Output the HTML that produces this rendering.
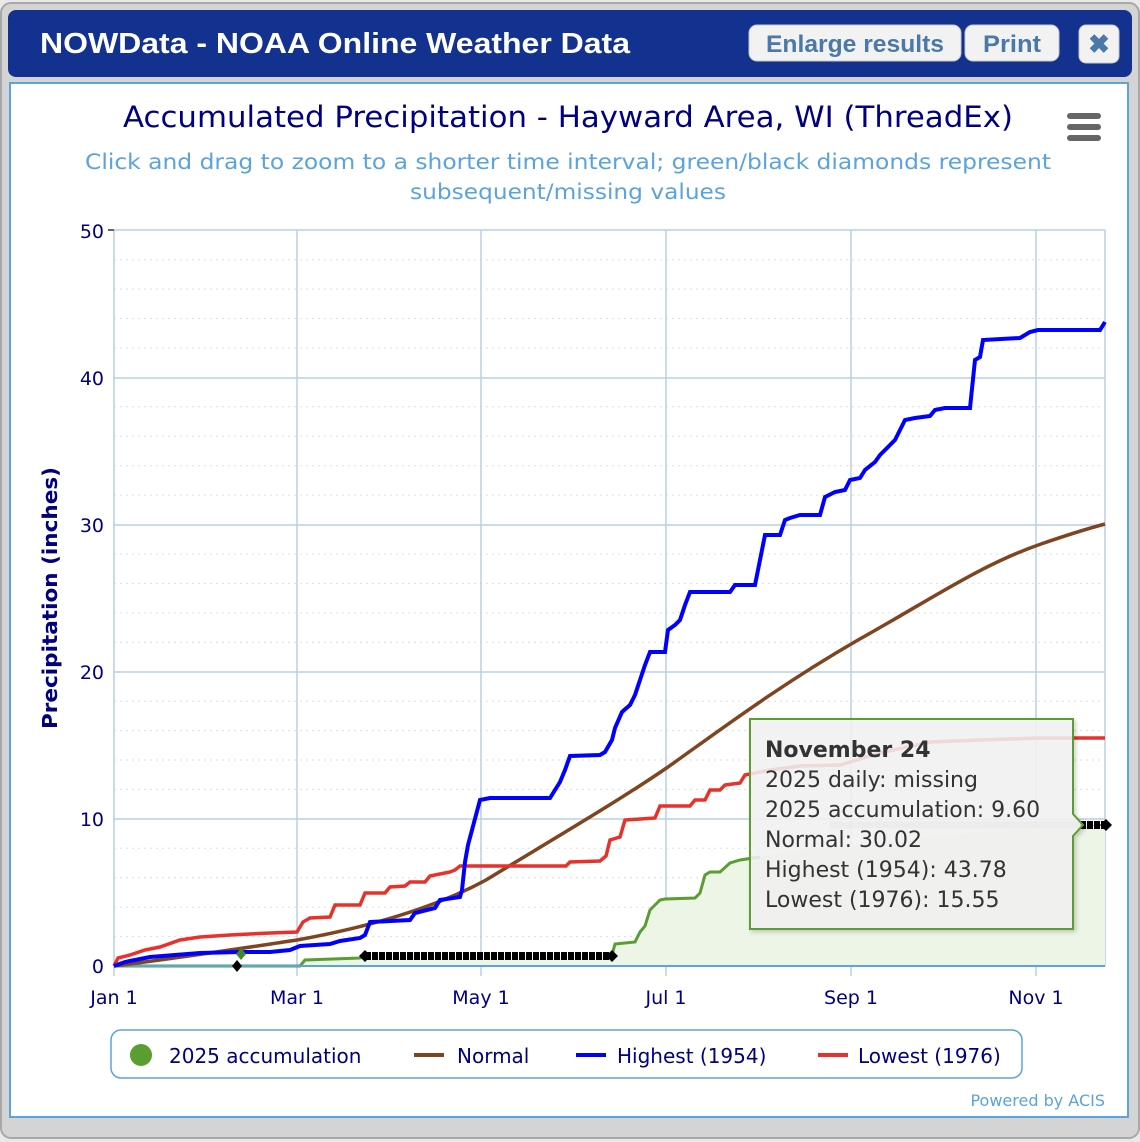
<!DOCTYPE html>
<html><head><meta charset="utf-8"><style>
html,body{margin:0;padding:0;background:#e8e8e8;}
svg{display:block;font-family:"DejaVu Sans","Liberation Sans",sans-serif;}
</style></head><body>
<svg width="1140" height="1142" viewBox="0 0 1140 1142" xmlns="http://www.w3.org/2000/svg">
<rect x="0" y="0" width="1140" height="1142" fill="#e9e9e9"/>
<rect x="1" y="3" width="1138" height="1135" rx="10" fill="#d4d4d4" stroke="#a8a8a8" stroke-width="2"/>
<rect x="8" y="10" width="1124" height="67" rx="8" fill="#13318e"/>
<text x="40" y="53" font-family="Liberation Sans,sans-serif" font-weight="bold" font-size="29" fill="#fff" textLength="590" lengthAdjust="spacingAndGlyphs">NOWData - NOAA Online Weather Data</text>
<rect x="749" y="25" width="212" height="36" rx="8" fill="#f2f2f2" stroke="#c8c8c8"/>
<text x="855" y="52" text-anchor="middle" font-family="Liberation Sans,sans-serif" font-weight="bold" font-size="24" fill="#4a78a8" textLength="178" lengthAdjust="spacingAndGlyphs">Enlarge results</text>
<rect x="965" y="25" width="94" height="36" rx="8" fill="#f2f2f2" stroke="#c8c8c8"/>
<text x="1012" y="52" text-anchor="middle" font-family="Liberation Sans,sans-serif" font-weight="bold" font-size="24" fill="#4a78a8" textLength="58" lengthAdjust="spacingAndGlyphs">Print</text>
<rect x="1079" y="25" width="40" height="38" rx="7" fill="#f2f2f2" stroke="#c8c8c8"/>
<text x="1099" y="53" text-anchor="middle" font-family="Liberation Sans,sans-serif" font-weight="bold" font-size="26" fill="#4a78a8">✖</text>
<rect x="10" y="83" width="1118" height="1034" fill="#fff" stroke="#5aa3dd" stroke-width="2"/>

<text x="568" y="127" text-anchor="middle" font-size="29" fill="#000080" textLength="890" lengthAdjust="spacingAndGlyphs">Accumulated Precipitation - Hayward Area, WI (ThreadEx)</text>
<g fill="#666"><rect x="1067" y="113" width="34" height="6" rx="3"/><rect x="1067" y="124" width="34" height="6" rx="3"/><rect x="1067" y="135" width="34" height="6" rx="3"/></g>
<text x="568" y="169" text-anchor="middle" font-size="21" fill="#5aa3dd" textLength="966" lengthAdjust="spacingAndGlyphs">Click and drag to zoom to a shorter time interval; green/black diamonds represent</text>
<text x="568" y="199" text-anchor="middle" font-size="21" fill="#5aa3dd" textLength="316" lengthAdjust="spacingAndGlyphs">subsequent/missing values</text>

<g stroke="#ddd" stroke-dasharray="2,4" stroke-width="1">
<line x1="114" x2="1105" y1="936.6" y2="936.6"/><line x1="114" x2="1105" y1="907.2" y2="907.2"/><line x1="114" x2="1105" y1="877.7" y2="877.7"/><line x1="114" x2="1105" y1="848.3" y2="848.3"/>
<line x1="114" x2="1105" y1="789.4" y2="789.4"/><line x1="114" x2="1105" y1="760" y2="760"/><line x1="114" x2="1105" y1="730.6" y2="730.6"/><line x1="114" x2="1105" y1="701.2" y2="701.2"/>
<line x1="114" x2="1105" y1="642.3" y2="642.3"/><line x1="114" x2="1105" y1="612.9" y2="612.9"/><line x1="114" x2="1105" y1="583.4" y2="583.4"/><line x1="114" x2="1105" y1="554" y2="554"/>
<line x1="114" x2="1105" y1="495.1" y2="495.1"/><line x1="114" x2="1105" y1="465.7" y2="465.7"/><line x1="114" x2="1105" y1="436.3" y2="436.3"/><line x1="114" x2="1105" y1="406.8" y2="406.8"/>
<line x1="114" x2="1105" y1="348" y2="348"/><line x1="114" x2="1105" y1="318.6" y2="318.6"/><line x1="114" x2="1105" y1="289.1" y2="289.1"/><line x1="114" x2="1105" y1="259.7" y2="259.7"/>
</g>
<g stroke="#b8d0e6" stroke-width="1.5">
<line x1="114" x2="1105" y1="819" y2="819"/><line x1="114" x2="1105" y1="672" y2="672"/><line x1="114" x2="1105" y1="525" y2="525"/><line x1="114" x2="1105" y1="378" y2="378"/><line x1="114" x2="1105" y1="230" y2="230"/>
<line x1="114" x2="114" y1="230" y2="966"/><line x1="297" x2="297" y1="230" y2="966"/><line x1="481" x2="481" y1="230" y2="966"/><line x1="666" x2="666" y1="230" y2="966"/><line x1="851" x2="851" y1="230" y2="966"/><line x1="1036" x2="1036" y1="230" y2="966"/><line x1="1105" x2="1105" y1="230" y2="966"/>
<line x1="114" x2="114" y1="966" y2="976"/><line x1="297" x2="297" y1="966" y2="976"/><line x1="481" x2="481" y1="966" y2="976"/><line x1="666" x2="666" y1="966" y2="976"/><line x1="851" x2="851" y1="966" y2="976"/><line x1="1036" x2="1036" y1="966" y2="976"/>
</g>
<g fill="#666"><rect x="108" y="229" width="6" height="2"/></g>

<g font-size="19" fill="#000080" text-anchor="end">
<text x="104" y="973">0</text><text x="104" y="826">10</text><text x="104" y="679">20</text><text x="104" y="532">30</text><text x="104" y="385">40</text><text x="104" y="238">50</text>
</g>
<g font-size="19" fill="#000080" text-anchor="middle">
<text x="114" y="1004">Jan 1</text><text x="297" y="1004">Mar 1</text><text x="481" y="1004">May 1</text><text x="666" y="1004">Jul 1</text><text x="851" y="1004">Sep 1</text><text x="1036" y="1004">Nov 1</text>
</g>
<text transform="translate(57,598) rotate(-90)" text-anchor="middle" font-size="20" font-weight="bold" fill="#000080" textLength="262" lengthAdjust="spacingAndGlyphs">Precipitation (inches)</text>

<polygon fill="#ecf5e6" points="114,966 300,966 305,960 360,958 365,956 612,956 615,944 635,942 640,932 645,926 650,910 655,905 660,900 665,899 695,898 700,893 705,875 710,872 720,872 730,863 740,860 760,857 800,850 850,845 900,840 950,835 1000,830 1040,827 1080,825 1105,825 1105,966"/>
<polyline fill="none" stroke="#5a9e32" stroke-width="3" points="114,966 300,966 305,960 360,958 365,956"/>
<polyline fill="none" stroke="#5a9e32" stroke-width="3" points="612,955 615,944 635,942 640,932 645,926 650,910 655,905 660,900 665,899 695,898 700,893 705,875 710,872 720,872 730,863 740,860 760,857"/>
<line x1="114" x2="1105" y1="966" y2="966" stroke="#5aa3dd" stroke-width="2"/>

<path fill="none" stroke="#7f4520" stroke-width="3.5" d="M114,966 C200,955 250,947 297,940 C380,925 440,905 486,880 C560,835 620,800 668,767 C720,730 780,685 858,640 C930,600 980,565 1041,544 C1070,534 1090,528 1105,524"/>
<polyline fill="none" stroke="#e8312a" stroke-width="3.5" points="114,966 118,958 130,955 145,950 160,947 180,940 200,937 230,935 270,933 297,932 303,922 310,918 330,917 335,905 360,905 365,893 385,893 390,887 405,886 410,882 425,882 430,876 440,874 450,872 455,870 460,866 566,866 570,862 600,861 606,856 610,840 620,837 625,820 655,818 660,806 690,806 695,800 705,800 710,790 720,790 725,785 740,783 745,775 770,770 800,766 840,765 880,753 930,742 980,740 1040,738 1105,738"/>
<polyline fill="none" stroke="#0000ff" stroke-width="4" points="114,966 125,962 150,957 200,953 240,952 270,952 290,950 300,946 330,944 340,941 360,938 365,935 370,922 410,920 415,913 435,908 440,900 460,897 462,890 465,862 468,845 472,830 480,800 490,798 550,798 555,790 560,782 565,770 570,756 600,755 605,752 612,740 615,728 622,712 630,705 635,695 640,680 645,665 650,652 665,652 668,630 675,625 680,620 685,605 690,592 730,592 735,585 755,585 760,560 765,535 780,535 785,520 790,518 800,515 820,515 825,497 835,492 845,490 850,480 860,478 865,470 875,462 880,455 890,445 895,440 900,430 905,420 915,418 930,416 935,410 945,408 970,408 975,360 980,357 983,340 1020,338 1030,332 1038,330 1100,330 1105,322"/>

<line x1="365" x2="612" y1="956" y2="956" stroke="#000" stroke-width="8" stroke-dasharray="6,1"/>
<polygon points="365,950 371,956 365,962 359,956" fill="#000"/><polygon points="612,950 618,956 612,962 606,956" fill="#000"/>
<polygon points="241,948 246,954 241,960 236,954" fill="#3f8a2a"/>
<polygon points="237,960 242,966 237,972 232,966" fill="#000"/>
<line x1="1080" x2="1106" y1="825" y2="825" stroke="#000" stroke-width="8" stroke-dasharray="6,1"/>
<polygon points="1106,819 1112,825 1106,831 1100,825" fill="#000"/>

<line x1="830" x2="1080" y1="825" y2="825" stroke="#bbb" stroke-width="7" opacity="0.7"/>
<path d="M750,719 L1073,719 L1073,814 L1083,825 L1073,836 L1073,929 L750,929 Z" fill="#f7f7f7" fill-opacity="0.85" stroke="#5a9e32" stroke-width="2" filter="drop-shadow(2px 2px 2px rgba(0,0,0,0.2))"/>
<g font-size="22" fill="#333">
<text x="765" y="757" font-weight="bold">November 24</text>
<text x="765" y="787">2025 daily: missing</text>
<text x="765" y="817">2025 accumulation: 9.60</text>
<text x="765" y="847">Normal: 30.02</text>
<text x="765" y="877">Highest (1954): 43.78</text>
<text x="765" y="907">Lowest (1976): 15.55</text>
</g>

<rect x="111" y="1030" width="911" height="48" rx="10" fill="#fff" stroke="#5aa3dd" stroke-width="1.5"/>
<g font-size="20" fill="#000080">
<circle cx="141" cy="1055" r="11" fill="#5a9e32"/>
<text x="169" y="1063">2025 accumulation</text>
<rect x="414" y="1053" width="30" height="4" fill="#7f4520"/><text x="457" y="1063">Normal</text>
<rect x="576" y="1053" width="30" height="4" fill="#0000ff"/><text x="617" y="1063">Highest (1954)</text>
<rect x="818" y="1053" width="30" height="4" fill="#e8312a"/><text x="858" y="1063">Lowest (1976)</text>
</g>
<text x="1105" y="1106" text-anchor="end" font-size="16" fill="#5aa3dd">Powered by ACIS</text>
</svg>
</body></html>
